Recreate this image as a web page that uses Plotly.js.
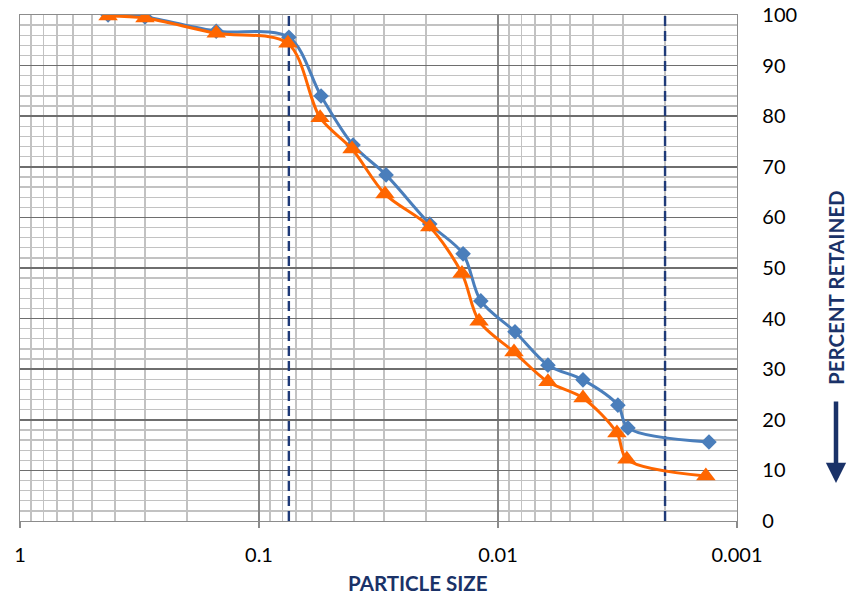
<!DOCTYPE html>
<html>
<head>
<meta charset="utf-8">
<script src="https://cdn.plot.ly/plotly-3.0.1.min.js"></script>
<style>html,body{margin:0;padding:0;background:#fff;}#chart{width:865px;height:598px;}</style>
</head>
<body>
<div id="chart"></div>
<script>
// Particle size (mm) and percent values
const blueSize = [0.428, 0.300, 0.151, 0.075, 0.0550, 0.0404, 0.0294, 0.0193, 0.0140, 0.0118, 0.00849, 0.00618, 0.00441, 0.00315, 0.00286, 0.00131];
const bluePct  = [100, 99.6, 96.8, 95.6, 84.0, 74.3, 68.4, 58.7, 52.8, 43.5, 37.4, 30.8, 27.9, 22.9, 18.4, 15.6];
const orangeSize = [0.428, 0.300, 0.151, 0.0757, 0.0555, 0.0408, 0.0297, 0.0193, 0.01415, 0.0120, 0.00857, 0.00618, 0.00441, 0.00318, 0.00289, 0.00135];
const orangePct  = [99.8, 99.4, 96.4, 94.4, 79.7, 73.5, 64.6, 58.1, 48.9, 39.5, 33.4, 27.5, 24.3, 17.4, 12.2, 8.9];
const limitSizes = [0.075, 0.002];
const limitRange = [0, 100];
const xTickVals = [1, 0.1, 0.01, 0.001];
const xTickText = ['1', '0.1', '0.01', '0.001'];
const yMinorVals = [2, 4, 6, 8, 12, 14, 16, 18, 22, 24, 26, 28, 32, 34, 36, 38, 42, 44, 46, 48,
  52, 54, 56, 58, 62, 64, 66, 68, 72, 74, 76, 78, 82, 84, 86, 88, 92, 94, 96, 98];

const FONT = 'Lato, "Open Sans", sans-serif';
const NAVY = '#1a3268';

const traces = [];
limitSizes.forEach(s => {
  traces.push({
    x: [s, s], y: limitRange, mode: 'lines', hoverinfo: 'skip', showlegend: false,
    line: {color: '#1f3a78', width: 2.4, dash: '10px,5px'}
  });
});
traces.push({
  x: blueSize, y: bluePct, mode: 'lines+markers', showlegend: false,
  line: {color: '#4a7ebb', width: 3, shape: 'spline', smoothing: 0.9},
  marker: {symbol: 'diamond', size: 12, color: '#4a7ebb'}
});
traces.push({
  x: orangeSize, y: orangePct, mode: 'lines+markers', showlegend: false,
  line: {color: '#ff6600', width: 3, shape: 'spline', smoothing: 0.9},
  marker: {symbol: 'triangle-up', size: 17, color: '#ff6600'}
});

const layout = {
  width: 865, height: 598,
  margin: {l: 20, r: 128, t: 15, b: 77},
  paper_bgcolor: '#fff', plot_bgcolor: '#fff',
  font: {family: FONT, size: 20, color: '#000'},
  xaxis: {
    type: 'log', range: [0, -3], autorange: false,
    tickmode: 'array', tickvals: xTickVals, ticktext: xTickText,
    showgrid: true, gridcolor: '#858585', gridwidth: 1.4,
    minor: {dtick: 'D1', showgrid: true, gridcolor: '#c2c2c2', gridwidth: 1.3, ticks: ''},
    ticks: 'outside', ticklen: 6, tickcolor: '#8c8c8c', tickwidth: 1.3,
    ticklabelstandoff: 10,
    showline: true, linecolor: '#8c8c8c', linewidth: 1.3, mirror: true,
    zeroline: false, tickfont: {family: FONT, size: 20, color: '#000'}
  },
  yaxis: {
    range: [0, 100], autorange: false, side: 'right',
    tickmode: 'linear', tick0: 0, dtick: 10,
    showgrid: true, gridcolor: '#6e6e6e', gridwidth: 1.6,
    minor: {tickmode: 'array', tickvals: yMinorVals, showgrid: true, gridcolor: '#c2c2c2', gridwidth: 1.3, ticks: ''},
    ticks: 'outside', ticklen: 20, tickcolor: 'rgba(0,0,0,0)',
    showline: true, linecolor: '#8c8c8c', linewidth: 1.3, mirror: true,
    zeroline: false, tickfont: {family: FONT, size: 20, color: '#000'}
  },
  annotations: [
    {text: '<b>PARTICLE SIZE</b>', xref: 'paper', yref: 'paper',
     x: (418 - 20) / 717, y: -(583 - 521) / 506, xanchor: 'center', yanchor: 'middle',
     showarrow: false, font: {family: FONT, size: 20.5, color: NAVY}},
    {text: '<b>PERCENT RETAINED</b>', xref: 'paper', yref: 'paper', textangle: -90,
     x: (836 - 20) / 717, y: (521 - 288) / 506, xanchor: 'center', yanchor: 'middle',
     showarrow: false, font: {family: FONT, size: 20.5, color: NAVY}},
    {text: '', xref: 'paper', yref: 'paper',
     x: (836 - 20) / 717, y: (521 - 483) / 506, ax: 0, ay: -83,
     showarrow: true, arrowhead: 2, arrowsize: 0.9, arrowwidth: 4.5, arrowcolor: NAVY}
  ]
};

Plotly.newPlot('chart', traces, layout, {displayModeBar: false, staticPlot: true});
</script>
</body>
</html>
